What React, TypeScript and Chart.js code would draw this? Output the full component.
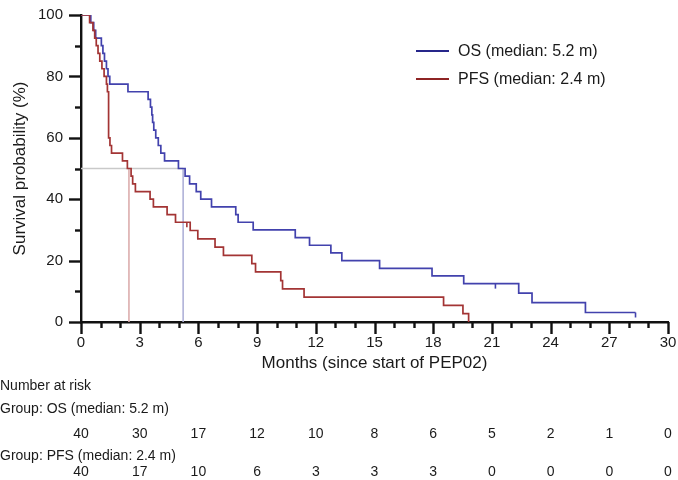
import React, { useEffect, useRef } from 'react';
import { Chart, registerables } from 'chart.js';
Chart.register(...registerables);

// ---- Data ----
const osLabel = 'OS (median: 5.2 m)';
const pfsLabel = 'PFS (median: 2.4 m)';

const osTimes = [0, 0.5, 0.65, 0.75, 1.04, 1.12, 1.2, 1.3, 1.38, 1.47, 2.4, 3.43, 3.55, 3.62, 3.66, 3.72, 3.82, 3.95, 4.08, 4.27, 4.98, 5.32, 5.55, 5.89, 6.12, 6.67, 7.91, 8.03, 8.8, 10.95, 11.68, 12.77, 13.33, 15.26, 17.94, 19.56, 22.37, 23.05, 25.78, 28.34];
const osSurv = [100, 97.5, 95, 92.5, 90, 87.5, 85, 82.5, 80, 77.5, 75, 72.5, 70, 67.5, 65, 62.5, 60, 57.5, 55, 52.5, 50, 47.5, 45, 42.5, 40, 37.5, 35, 32.5, 30, 27.5, 25, 22.5, 20, 17.5, 15, 12.5, 9.4, 6.3, 3.1, 3.1];
const osCensorTimes = [21.18, 28.34];
const osCensorSurv = [12.5, 3.1];

const pfsTimes = [0, 0.44, 0.61, 0.7, 0.78, 0.87, 0.96, 1.07, 1.18, 1.3, 1.35, 1.41, 1.48, 1.56, 2.12, 2.37, 2.56, 2.64, 2.78, 3.53, 3.7, 4.4, 4.83, 5.58, 5.97, 6.85, 7.28, 8.73, 8.92, 10.21, 10.3, 11.4, 18.53, 19.52, 19.81];
const pfsSurv = [100, 97.5, 95, 92.5, 90, 87.5, 85, 82.5, 80, 77.5, 75, 60, 57.5, 55, 52.5, 50, 47.5, 45, 42.5, 40, 37.5, 35, 32.5, 29.8, 27.1, 24.4, 21.7, 19, 16.3, 13.5, 10.8, 8.1, 5.4, 2.7, 0];
const pfsCensorTimes = [5.41];
const pfsCensorSurv = [32.5];

const osMedian = 5.22;
const pfsMedian = 2.45;
const medianLevel = 50;

const riskTimes = [0, 3, 6, 9, 12, 15, 18, 21, 24, 27, 30];
const osRisk = [40, 30, 17, 12, 10, 8, 6, 5, 2, 1, 0];
const pfsRisk = [40, 17, 10, 6, 3, 3, 3, 0, 0, 0, 0];

const xMax = 30;
const xStep = 3;
const yMax = 100;
const yStep = 20;

// ---- Styles ----
const FONT = '"Liberation Sans", Arial, Helvetica, sans-serif';
const BLUE = '#4242ad';
const RED = '#a33434';
const BLUE_LEG = '#26268a';
const RED_LEG = '#8e2424';
const TEXT = '#1a1a1a';

const toPts = (xs: number[], ys: number[]) => xs.map((x, i) => ({ x, y: ys[i] }));

const decorPlugin = {
  id: 'decor',
  afterDraw(chart: any) {
    const ctx = chart.ctx as CanvasRenderingContext2D;
    const xs = chart.scales.x;
    const ys = chart.scales.y;
    const { left, bottom } = chart.chartArea;
    ctx.save();
    // axis tick marks (major & minor)
    ctx.strokeStyle = '#111';
    ctx.lineWidth = 2.4;
    for (let m = 0; m <= xMax; m += 1) {
      const px = Math.round(xs.getPixelForValue(m)) + 0.5;
      const len = m % xStep === 0 ? 12 : 6;
      ctx.beginPath();
      ctx.moveTo(px, bottom);
      ctx.lineTo(px, bottom + len);
      ctx.stroke();
    }
    for (let v = 0; v <= yMax; v += yStep / 2) {
      const py = Math.round(ys.getPixelForValue(v)) + 0.5;
      const len = v % yStep === 0 ? 12 : 6;
      ctx.beginPath();
      ctx.moveTo(left, py);
      ctx.lineTo(left - len, py);
      ctx.stroke();
    }
    // censor marks
    const drawCensor = (ts: number[], ss: number[], col: string) => {
      ctx.strokeStyle = col;
      ctx.lineWidth = 1.6;
      ts.forEach((t, i) => {
        const px = xs.getPixelForValue(t);
        const py = ys.getPixelForValue(ss[i]);
        ctx.beginPath();
        ctx.moveTo(px, py);
        ctx.lineTo(px, py + 5);
        ctx.stroke();
      });
    };
    drawCensor(osCensorTimes, osCensorSurv, BLUE);
    drawCensor(pfsCensorTimes, pfsCensorSurv, RED);

    // legend
    const lx = left + 335;
    const ly = 51;
    const gap = 28;
    ctx.lineWidth = 2;
    [[osLabel, BLUE_LEG], [pfsLabel, RED_LEG]].forEach(([lab, col], i) => {
      const y = ly + i * gap;
      ctx.strokeStyle = col;
      ctx.beginPath();
      ctx.moveTo(lx, y);
      ctx.lineTo(lx + 33, y);
      ctx.stroke();
      ctx.fillStyle = TEXT;
      ctx.font = `16px ${FONT}`;
      ctx.textAlign = 'left';
      ctx.textBaseline = 'middle';
      ctx.fillText(lab, lx + 42, y + 1);
    });

    // risk table
    ctx.fillStyle = TEXT;
    ctx.font = `14px ${FONT}`;
    ctx.textBaseline = 'middle';
    ctx.textAlign = 'left';
    ctx.fillText('Number at risk', 0, 386);
    ctx.fillText('Group: ' + osLabel, 0, 409);
    ctx.fillText('Group: ' + pfsLabel, 0, 456);
    ctx.textAlign = 'center';
    riskTimes.forEach((t, i) => {
      const px = xs.getPixelForValue(t);
      ctx.fillText(String(osRisk[i]), px, 434);
      ctx.fillText(String(pfsRisk[i]), px, 472);
    });
    ctx.restore();
  },
};

export default function App() {
  const ref = useRef<HTMLCanvasElement | null>(null);
  useEffect(() => {
    if (!ref.current) return;
    const chart = new Chart(ref.current, {
      type: 'line',
      data: {
        datasets: [
          {
            label: pfsLabel,
            data: toPts(pfsTimes, pfsSurv),
            borderColor: RED,
            borderWidth: 1.7,
            stepped: 'before',
            pointRadius: 0,
            fill: false,
            order: 0,
          },
          {
            label: osLabel,
            data: toPts(osTimes, osSurv),
            borderColor: BLUE,
            borderWidth: 1.7,
            stepped: 'before',
            pointRadius: 0,
            fill: false,
            order: 1,
          },
          {
            label: 'median level',
            data: [{ x: 0, y: medianLevel }, { x: osMedian, y: medianLevel }],
            borderColor: '#c9c9c9',
            borderWidth: 1.6,
            pointRadius: 0,
            order: 2,
          },
          {
            label: 'PFS median',
            data: [{ x: pfsMedian, y: medianLevel }, { x: pfsMedian, y: 0 }],
            borderColor: '#dcadad',
            borderWidth: 1.6,
            pointRadius: 0,
            order: 3,
          },
          {
            label: 'OS median',
            data: [{ x: osMedian, y: medianLevel }, { x: osMedian, y: 0 }],
            borderColor: '#b0b2d8',
            borderWidth: 1.6,
            pointRadius: 0,
            order: 3,
          },
        ],
      },
      options: {
        animation: false,
        responsive: true,
        maintainAspectRatio: false,
        parsing: false as any,
        layout: { padding: { left: 0, right: 10, top: 8, bottom: 98 } },
        plugins: { legend: { display: false }, tooltip: { enabled: false } },
        scales: {
          x: {
            type: 'linear',
            min: 0,
            max: xMax,
            grid: { display: false, drawTicks: true, tickLength: 12 },
            border: { display: true, color: '#111', width: 2.4 },
            ticks: { stepSize: xStep, color: TEXT, font: { family: FONT, size: 15 }, padding: 0, maxRotation: 0 },
            title: { display: true, text: 'Months (since start of PEP02)', color: TEXT, font: { family: FONT, size: 17 }, padding: { top: 0, bottom: 8 } },
            afterFit: (s: any) => { s.height = 60; },
          },
          y: {
            type: 'linear',
            min: 0,
            max: yMax,
            grid: { display: false, drawTicks: true, tickLength: 12 },
            border: { display: true, color: '#111', width: 2.4 },
            ticks: { stepSize: yStep, color: TEXT, font: { family: FONT, size: 15 }, padding: 6 },
            title: { display: true, text: 'Survival probability (%)', color: TEXT, font: { family: FONT, size: 17 }, padding: { top: 10, bottom: 0 } },
            afterFit: (s: any) => { s.width = 81; },
          },
        },
      },
      plugins: [decorPlugin],
    });
    return () => chart.destroy();
  }, []);
  return (
    <div style={{ position: 'fixed', left: 0, top: 0, width: 678, height: 480, background: '#fff' }}>
      <canvas ref={ref} />
    </div>
  );
}
